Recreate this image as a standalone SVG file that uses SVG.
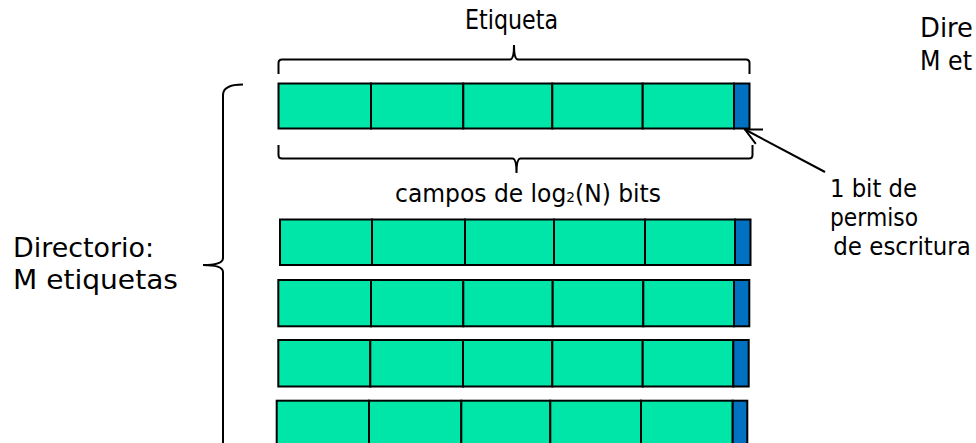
<svg xmlns="http://www.w3.org/2000/svg" width="976" height="443" viewBox="0 0 976 443">
<style>
  .f { fill: #00E5A8; stroke: #000; stroke-width: 2; }
  .b { fill: #0070C0; stroke: #000; stroke-width: 2; }
  .ln { fill: none; stroke: #000; stroke-width: 2; }
  .t { font-family: "DejaVu Sans", Verdana, sans-serif; fill: #000; }
</style>
<rect x="0" y="0" width="976" height="443" fill="#fff"/>

<g id="row1">
  <rect class="f" x="278.5" y="83.5" width="92.5" height="45"/>
  <rect class="f" x="371" y="83.5" width="92.3" height="45"/>
  <rect class="f" x="463.3" y="83.5" width="89" height="45"/>
  <rect class="f" x="552.3" y="83.5" width="90.4" height="45"/>
  <rect class="f" x="642.7" y="83.5" width="91.3" height="45"/>
  <rect class="b" x="734" y="83.5" width="15.5" height="45"/>
</g>
<g id="row2">
  <rect class="f" x="280" y="219.5" width="92" height="45.5"/>
  <rect class="f" x="372" y="219.5" width="93" height="45.5"/>
  <rect class="f" x="465" y="219.5" width="89" height="45.5"/>
  <rect class="f" x="554" y="219.5" width="91" height="45.5"/>
  <rect class="f" x="645" y="219.5" width="90" height="45.5"/>
  <rect class="b" x="735" y="219.5" width="15.5" height="45.5"/>
</g>
<g id="row3">
  <rect class="f" x="278.3" y="280" width="92.7" height="46.3"/>
  <rect class="f" x="371" y="280" width="92.3" height="46.3"/>
  <rect class="f" x="463.3" y="280" width="89.4" height="46.3"/>
  <rect class="f" x="552.7" y="280" width="90.6" height="46.3"/>
  <rect class="f" x="643.3" y="280" width="90.7" height="46.3"/>
  <rect class="b" x="734" y="280" width="15.3" height="46.3"/>
</g>
<g id="row4">
  <rect class="f" x="278.3" y="340" width="92" height="46.5"/>
  <rect class="f" x="370.3" y="340" width="92.7" height="46.5"/>
  <rect class="f" x="463" y="340" width="89.3" height="46.5"/>
  <rect class="f" x="552.3" y="340" width="90.4" height="46.5"/>
  <rect class="f" x="642.7" y="340" width="90.6" height="46.5"/>
  <rect class="b" x="733.3" y="340" width="15.4" height="46.5"/>
</g>
<g id="row5">
  <rect class="f" x="276.7" y="400.7" width="92.3" height="46.5"/>
  <rect class="f" x="369" y="400.7" width="92.3" height="46.5"/>
  <rect class="f" x="461.3" y="400.7" width="89" height="46.5"/>
  <rect class="f" x="550.3" y="400.7" width="90.7" height="46.5"/>
  <rect class="f" x="641" y="400.7" width="91.7" height="46.5"/>
  <rect class="b" x="732.7" y="400.7" width="14.6" height="46.5"/>
</g>

<g id="connectors">
  <path class="ln" d="M278.5,74 V63 Q278.5,59.5 282,59.5 H510 Q514,59.5 514,45 Q514,59.5 518,59.5 H746 Q749.5,59.5 749.5,63 V74"/>
  <path class="ln" d="M278.5,145 V155 Q278.5,158.5 282,158.5 H512.5 Q516.5,158.5 516.5,173 Q516.5,158.5 520.5,158.5 H749 Q752.5,158.5 752.5,155 V145"/>
  <path class="ln" d="M243,84.5 Q223,84.5 223,95 V258 Q223,265 203,265 Q223,265 223,272 V450"/>
  <path class="ln" d="M825,172 L745,129.5"/>
  <path class="ln" d="M763,129.5 L745,129.5 L755.8,143.9"/>
</g>

<g id="labels">
  <text class="t" x="465" y="29.3" font-size="26" textLength="93" lengthAdjust="spacingAndGlyphs">Etiqueta</text>
  <text class="t" x="395" y="202" font-size="24" textLength="266" lengthAdjust="spacingAndGlyphs">campos de log<tspan font-size="14">2</tspan>(N) bits</text>
  <text class="t" x="13" y="257.3" font-size="27" textLength="141" lengthAdjust="spacingAndGlyphs">Directorio:</text>
  <text class="t" x="13" y="289" font-size="27" textLength="165" lengthAdjust="spacingAndGlyphs">M etiquetas</text>
  <text class="t" x="920" y="37.3" font-size="27" textLength="53" lengthAdjust="spacingAndGlyphs">Dire</text>
  <text class="t" x="920" y="70" font-size="27" textLength="52" lengthAdjust="spacingAndGlyphs">M et</text>
  <text class="t" x="830" y="196.7" font-size="24" textLength="87" lengthAdjust="spacingAndGlyphs">1 bit de</text>
  <text class="t" x="830" y="225.5" font-size="24" textLength="88" lengthAdjust="spacingAndGlyphs">permiso</text>
  <text class="t" x="833.3" y="255" font-size="24" textLength="137.5" lengthAdjust="spacingAndGlyphs">de escritura</text>
</g>
</svg>
